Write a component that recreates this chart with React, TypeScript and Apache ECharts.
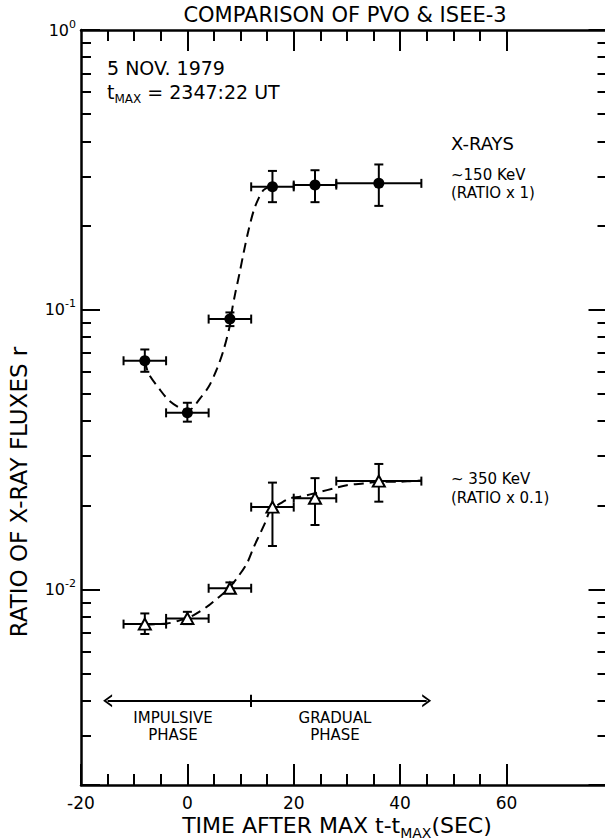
import React, { useEffect, useRef } from 'react';
import * as echarts from 'echarts';

// ---------- tick positions ----------
const xMajorTicks = [-20, 0, 20, 40, 60];
const xMinorTicks = [-15, -10, -5, 5, 10, 15, 25, 30, 35, 45, 50, 55];
const yMinorTicks = [
  0.003, 0.004, 0.005, 0.006, 0.007, 0.008, 0.009,
  0.02, 0.03, 0.04, 0.05, 0.06, 0.07, 0.08, 0.09,
  0.2, 0.3, 0.4, 0.5, 0.6, 0.7, 0.8, 0.9,
];
const xMin = -20;
const xMax = 79;
const yMin = 0.002;
const yMax = 1;

// ---------- ~150 keV (ratio x 1), filled circles ----------
const tA = [-8, 0, 8, 16, 24, 36];
const dtA = [4, 4, 4, 4, 4, 8];
const rA = [0.0657, 0.0428, 0.0926, 0.275, 0.279, 0.283];
const rALo = [0.06, 0.0398, 0.0874, 0.2424, 0.2424, 0.2351];
const rAHi = [0.0721, 0.0465, 0.0978, 0.3135, 0.3153, 0.3306];

// ---------- ~350 keV (ratio x 0.1), open triangles ----------
const tB = [-8, 0, 8, 16, 24, 36];
const dtB = [4, 4, 4, 4, 4, 8];
const rB = [0.00752, 0.00788, 0.0101, 0.0197, 0.0212, 0.0244];
const rBLo = [0.00693, 0.00752, 0.00973, 0.0143, 0.017, 0.0206];
const rBHi = [0.00821, 0.00832, 0.0106, 0.0241, 0.025, 0.0281];

// ---------- hand-drawn dashed curves ----------
const curveAx = [-8, -7.3, -5.1, -3.5, -1.3, 0, 0.9, 2.4, 4, 5.6, 6.8, 8, 8.4, 9, 9.8, 10.6, 11.5, 12.5, 13.4, 14.3, 15.3, 16];
const curveAy = [0.0657, 0.0592, 0.0516, 0.0475, 0.0444, 0.0437, 0.0444, 0.0482, 0.053, 0.0617, 0.0717, 0.088, 0.0997, 0.1144, 0.1348, 0.1606, 0.1925, 0.227, 0.25, 0.2676, 0.275, 0.277];
const curveBx = [-8, -3.8, -1.3, 1.2, 3.7, 5.6, 7.5, 9.3, 11.2, 12.5, 13.7, 14.7, 15.6, 17.5, 19.3, 21.2, 25, 27.5, 30, 33.1, 36.2, 39.4, 42.5, 44];
const curveBy = [0.0075, 0.00756, 0.00777, 0.0081, 0.00868, 0.00929, 0.00995, 0.01096, 0.0124, 0.0142, 0.01587, 0.01746, 0.0192, 0.0203, 0.02117, 0.02145, 0.02234, 0.02298, 0.0236, 0.02393, 0.02425, 0.02425, 0.02445, 0.0245];

// ---------- phase arrow ----------
const phaseArrowY = 0.004;
const phaseStart = -15;
const phaseEnd = 45;
const phaseSplit = 12;
const phaseSplitSpan = [0.0038, 0.0042];

const FONT = '"DejaVu Sans", "Liberation Sans", Arial, sans-serif';
const BLACK = '#000';
const chevron = 'path://M0,10L5,0L10,10L8.3,10L5,3.4L1.7,10Z';

const fmtPow = (v: number) => {
  const e = Math.log10(v);
  const r = Math.round(e);
  if (Math.abs(e - r) > 1e-6) return '';
  return `{b|10}{s|${r}}`;
};

function errorBars(t: number[], dt: number[], r: number[], lo: number[], hi: number[]) {
  return {
    type: 'custom',
    xAxisIndex: 0,
    yAxisIndex: 0,
    z: 3,
    silent: true,
    data: t.map((x, i) => [x, r[i], x - dt[i], x + dt[i], lo[i], hi[i]]),
    encode: { x: [0, 2, 3], y: [1, 4, 5] },
    renderItem: (_params: any, api: any) => {
      const x = api.value(0);
      const y = api.value(1);
      const l = api.coord([api.value(2), y]);
      const rr = api.coord([api.value(3), y]);
      const b = api.coord([x, api.value(4)]);
      const tp = api.coord([x, api.value(5)]);
      const cap = 4.5;
      const style = { stroke: BLACK, lineWidth: 2 };
      const ln = (x1: number, y1: number, x2: number, y2: number) => ({
        type: 'line',
        shape: { x1, y1, x2, y2 },
        style,
      });
      return {
        type: 'group',
        children: [
          ln(l[0], l[1], rr[0], rr[1]),
          ln(l[0], l[1] - cap, l[0], l[1] + cap),
          ln(rr[0], rr[1] - cap, rr[0], rr[1] + cap),
          ln(b[0], b[1], tp[0], tp[1]),
          ln(b[0] - cap, b[1], b[0] + cap, b[1]),
          ln(tp[0] - cap, tp[1], tp[0] + cap, tp[1]),
        ],
      };
    },
  };
}

const tickStyle = { color: BLACK, width: 2 };
const lineStyleAxis = { color: BLACK, width: 2.5 };

function buildOption(): any {
  const logMin = Math.log10(yMin);
  const xBase = { type: 'value', min: xMin, max: xMax, splitLine: { show: false } };
  const yLogBase = { type: 'log', logBase: 10, min: yMin, max: yMax, splitLine: { show: false }, minorTick: { show: false } };
  const yHelpBase = { type: 'value', min: logMin, max: 0, splitLine: { show: false }, axisLabel: { show: false } };
  const noLine = { show: false, onZero: false };
  const withLine = { show: true, onZero: false, lineStyle: lineStyleAxis };
  return {
    animation: false,
    backgroundColor: '#fff',
    grid: { left: 81, right: -2.5, top: 30, bottom: 55, outerBoundsMode: 'none', containLabel: false },
    xAxis: [
      {
        ...xBase,
        position: 'bottom',
        axisLine: withLine,
        axisTick: { show: true, inside: true, length: 21, lineStyle: tickStyle, customValues: xMajorTicks },
        axisLabel: {
          show: true,
          customValues: xMajorTicks,
          color: BLACK,
          fontFamily: FONT,
          fontSize: 17,
          margin: 9,
          formatter: (v: number) => String(v),
        },
      },
      {
        ...xBase,
        position: 'bottom',
        axisLine: noLine,
        axisTick: { show: true, inside: true, length: 11, lineStyle: tickStyle, customValues: xMinorTicks },
        axisLabel: { show: false },
      },
      {
        ...xBase,
        position: 'top',
        axisLine: withLine,
        axisTick: { show: true, inside: true, length: 21, lineStyle: tickStyle, customValues: xMajorTicks.filter((v) => v > xMin) },
        axisLabel: { show: false },
      },
      {
        ...xBase,
        position: 'top',
        axisLine: noLine,
        axisTick: { show: true, inside: true, length: 11, lineStyle: tickStyle, customValues: xMinorTicks },
        axisLabel: { show: false },
      },
    ],
    yAxis: [
      {
        ...yLogBase,
        position: 'left',
        offset: 0,
        axisLine: withLine,
        axisTick: { show: true, inside: true, length: 19, lineStyle: tickStyle },
        axisLabel: {
          show: true,
          margin: 5,
          formatter: fmtPow,
          rich: {
            b: { fontFamily: FONT, fontSize: 16, color: BLACK },
            s: { fontFamily: FONT, fontSize: 11, color: BLACK, padding: [0, 0, 12, 0] },
          },
        },
      },
      {
        ...yHelpBase,
        position: 'left',
        offset: 0,
        axisLine: noLine,
        axisTick: { show: true, inside: true, length: 10, lineStyle: tickStyle, customValues: yMinorTicks.map((v) => Math.log10(v)) },
      },
      {
        ...yLogBase,
        position: 'right',
        offset: 0,
        axisLine: withLine,
        axisTick: { show: true, inside: true, length: 19, lineStyle: tickStyle },
        axisLabel: { show: false },
      },
      {
        ...yHelpBase,
        position: 'right',
        offset: 0,
        axisLine: noLine,
        axisTick: { show: true, inside: true, length: 10, lineStyle: tickStyle, customValues: yMinorTicks.map((v) => Math.log10(v)) },
      },
    ],
    series: [
      {
        type: 'line',
        xAxisIndex: 0,
        yAxisIndex: 0,
        z: 2,
        silent: true,
        showSymbol: false,
        smooth: 0.3,
        data: curveAx.map((x, i) => [x, curveAy[i]]),
        lineStyle: { color: BLACK, width: 2, type: [10, 6] },
      },
      {
        type: 'line',
        xAxisIndex: 0,
        yAxisIndex: 0,
        z: 2,
        silent: true,
        showSymbol: false,
        smooth: 0.3,
        data: curveBx.map((x, i) => [x, curveBy[i]]),
        lineStyle: { color: BLACK, width: 2, type: [10, 6] },
        markLine: {
          silent: true,
          symbol: ['none', 'none'],
          label: { show: false },
          lineStyle: { color: BLACK, width: 2, type: 'solid' },
          emphasis: { disabled: true },
          data: [
            [
              { coord: [phaseStart, phaseArrowY], symbol: chevron, symbolSize: [13, 9] },
              { coord: [phaseEnd, phaseArrowY], symbol: chevron, symbolSize: [13, 9] },
            ],
            [
              { coord: [phaseSplit, phaseSplitSpan[0]] },
              { coord: [phaseSplit, phaseSplitSpan[1]] },
            ],
          ],
        },
      },
      errorBars(tA, dtA, rA, rALo, rAHi),
      errorBars(tB, dtB, rB, rBLo, rBHi),
      {
        type: 'scatter',
        xAxisIndex: 0,
        yAxisIndex: 0,
        z: 4,
        silent: true,
        symbol: 'circle',
        symbolSize: 11,
        itemStyle: { color: BLACK, opacity: 1 },
        data: tA.map((x, i) => [x, rA[i]]),
      },
      {
        type: 'scatter',
        xAxisIndex: 0,
        yAxisIndex: 0,
        z: 4,
        silent: true,
        symbol: 'triangle',
        symbolSize: [12, 11],
        itemStyle: { color: '#fff', borderColor: BLACK, borderWidth: 2, opacity: 1 },
        data: tB.map((x, i) => [x, rB[i]]),
      },
    ],
    graphic: [
      {
        type: 'text',
        x: 345,
        y: 15,
        style: { text: 'COMPARISON OF PVO & ISEE-3', fontFamily: FONT, fontSize: 21, fill: BLACK, align: 'center', verticalAlign: 'middle' },
      },
      {
        type: 'text',
        x: 107,
        y: 68,
        style: { text: '5 NOV. 1979', fontFamily: FONT, fontSize: 19, fill: BLACK, align: 'left', verticalAlign: 'middle' },
      },
      {
        type: 'text',
        x: 107,
        y: 92,
        style: {
          text: 't{s|MAX} = 2347:22 UT',
          fontFamily: FONT,
          fontSize: 19,
          fill: BLACK,
          align: 'left',
          verticalAlign: 'middle',
          rich: { s: { fontFamily: FONT, fontSize: 12, fill: BLACK, padding: [14, 0, 0, 0] } },
        },
      },
      {
        type: 'text',
        x: 451,
        y: 143,
        style: { text: 'X-RAYS', fontFamily: FONT, fontSize: 18, fill: BLACK, align: 'left', verticalAlign: 'middle' },
      },
      {
        type: 'text',
        x: 451,
        y: 184,
        style: { text: '~150 KeV\n(RATIO x 1)', fontFamily: FONT, fontSize: 15, lineHeight: 18, fill: BLACK, align: 'left', verticalAlign: 'middle' },
      },
      {
        type: 'text',
        x: 451,
        y: 488,
        style: { text: '~ 350 KeV\n(RATIO x 0.1)', fontFamily: FONT, fontSize: 15, lineHeight: 19, fill: BLACK, align: 'left', verticalAlign: 'middle' },
      },
      {
        type: 'text',
        x: 173,
        y: 726,
        style: { text: 'IMPULSIVE\nPHASE', fontFamily: FONT, fontSize: 15, lineHeight: 17, fill: BLACK, align: 'center', verticalAlign: 'middle' },
      },
      {
        type: 'text',
        x: 335,
        y: 726,
        style: { text: 'GRADUAL\nPHASE', fontFamily: FONT, fontSize: 15, lineHeight: 17, fill: BLACK, align: 'center', verticalAlign: 'middle' },
      },
      {
        type: 'text',
        x: 337,
        y: 825,
        style: {
          text: 'TIME AFTER MAX t-t{s|MAX}(SEC)',
          fontFamily: FONT,
          fontSize: 22,
          fill: BLACK,
          align: 'center',
          verticalAlign: 'middle',
          rich: { s: { fontFamily: FONT, fontSize: 14, fill: BLACK, padding: [15, 0, 0, 0] } },
        },
      },
      {
        type: 'text',
        x: 19,
        y: 492,
        rotation: Math.PI / 2,
        style: { text: 'RATIO OF X-RAY FLUXES r', fontFamily: FONT, fontSize: 23, fill: BLACK, align: 'center', verticalAlign: 'middle' },
      },
    ],
  };
}

export default function App() {
  const ref = useRef<HTMLDivElement>(null);
  useEffect(() => {
    if (!ref.current) return;
    const chart = echarts.init(ref.current, undefined, { renderer: 'svg' });
    chart.setOption(buildOption());
    return () => chart.dispose();
  }, []);
  return (
    <div
      ref={ref}
      style={{ position: 'absolute', left: 0, top: 0, width: 605, height: 840, background: '#fff' }}
    />
  );
}
